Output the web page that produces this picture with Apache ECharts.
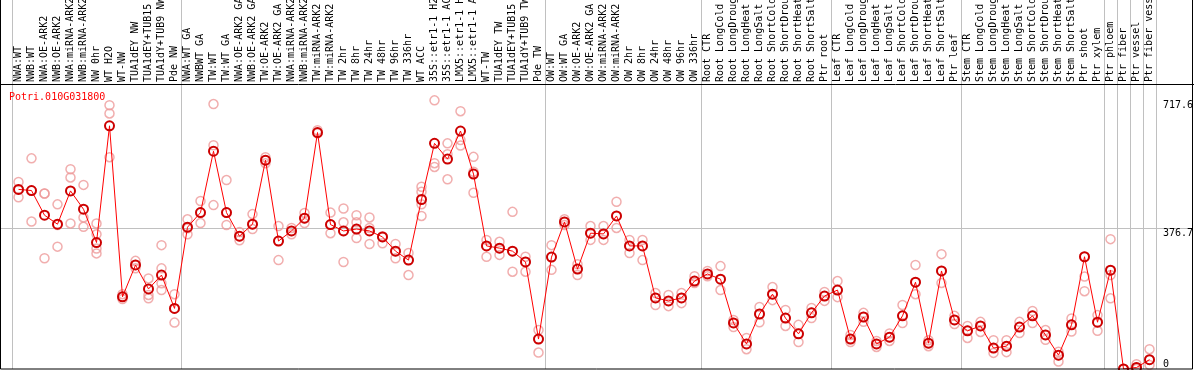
<!DOCTYPE html>
<html><head><meta charset="utf-8">
<script src="https://cdn.jsdelivr.net/npm/echarts@6/dist/echarts.min.js"></script>
<style>html,body{margin:0;padding:0;background:#fff}#c{width:1194px;height:370px}</style>
</head><body><div id="c"></div>
<script>
const title = "Potri.010G031800";
const categories = [
"NWA:WT","NWB:WT","NWA:OE-ARK2","NWB:OE-ARK2","NWA:miRNA-ARK2","NWB:miRNA-ARK2","NW 0hr","WT H2O","WT-NW","TUA1dEY NW","TUA1dEY+TUB15 NW","TUA1dY+TUB9 NW","Pde NW",
"NWA:WT GA","NWBWT GA","TW:WT","TW:WT GA","NWA:OE-ARK2 GA","NWB:OE-ARK2 GA","TW:OE-ARK2","TW:OE-ARK2 GA","NWA:miRNA-ARK2 GA","NWB:miRNA-ARK2 GA","TW:miRNA-ARK2","TW:miRNA-ARK2 GA","TW 2hr","TW 8hr","TW 24hr","TW 48hr","TW 96hr","TW 336hr","WT ACC","35S::etr1-1 H2O","35S::etr1-1 ACC","LMX5::etr1-1 H2O","LMX5::etr1-1 ACC","WT-TW","TUA1dEY TW","TUA1dEY+TUB15 TW","TUA1dY+TUB9 TW","Pde TW",
"OW:WT","OW:WT GA","OW:OE-ARK2","OW:OE-ARK2 GA","OW:miRNA-ARK2","OW:miRNA-ARK2 GA","OW 2hr","OW 8hr","OW 24hr","OW 48hr","OW 96hr","OW 336hr",
"Root CTR","Root LongCold","Root LongDrought","Root LongHeat","Root LongSalt","Root ShortCold","Root ShortDrought","Root ShortHeat","Root ShortSalt","Ptr root",
"Leaf CTR","Leaf LongCold","Leaf LongDrought","Leaf LongHeat","Leaf LongSalt","Leaf ShortCold","Leaf ShortDrought","Leaf ShortHeat","Leaf ShortSalt","Ptr leaf",
"Stem CTR","Stem LongCold","Stem LongDrought","Stem LongHeat","Stem LongSalt","Stem ShortCold","Stem ShortDrought","Stem ShortHeat","Stem ShortSalt","Ptr shoot","Ptr xylem","Ptr phloem","Ptr fiber","Ptr vessel","Ptr fiber vessel"
];
// indices of categories that have a separator line on their left
const separatorsBefore = [0,13,41,53,63,73,84,85,86,87];
const meanValues = [
480,477,411,387,476,427,338,650,193,278,214,251,162,
379,418,582,418,355,387,558,342,369,403,632,386,369,374,369,353,315,291,453,603,561,636,521,329,323,315,286,80,
299,393,267,363,361,409,329,329,190,182,190,235,
254,240,123,67,147,200,136,94,150,195,
211,80,139,67,85,142,232,69,262,131,
102,115,56,61,112,142,91,37,118,300,125,264,0,4,25
];
const replicateValues = [
[500,480,459],[563,477,394],[469,469,296],[440,385,327],[534,512,389],[492,405,380],[389,360,322,309],[705,683,566],[200,193,187],[289,278,269],[242,198,189],[331,269,229,211],[200,162,124],
[400,376,360],[449,418,390],[708,598,438],[505,418,385],[366,355,344],[414,387,374],[566,558,550],[382,342,291],[377,369,360],[417,403,390],[638,630],[418,386,363],[429,392,369,286],[411,392,374,350],[405,377,334],[355,353,336],[334,315,296],[310,291,251],[487,474,409,440],[718,550,540],[603,574,507],[689,612,597],[567,527,471],[345,329,300],[340,323,305],[420,315,260],[300,286,260],[104,80,44],
[331,299,265],[400,393,385],[280,267,251],[382,363,345],[382,361,345],[447,409,377],[345,329,310],[345,329,291],[203,190,171],[198,182,168],[203,190,176],[248,235,230],
[262,254,248],[275,240,211],[131,123,112],[83,67,53],[166,147,125],[219,200,184],[158,136,115],[118,94,72],[163,150,136],[206,195,182],
[235,211,192],[91,80,72],[150,139,126],[75,67,59],[95,85,75],[171,142,123],[278,232,200],[77,69,61],[307,262,230],[142,131,120],
[115,102,83],[126,115,99],[77,56,43],[77,61,45],[126,112,96],[155,142,123],[104,91,78],[46,37,20],[135,118,100],[247,300,208],[144,125,102],[347,264,251,189],[0,0,0],[13,4,0],[53,25,11]
];
const yTickValues = [0, 376.7, 717.6];
const gridLineValues = [376.7];
const yMax = 759;

const scatterData = [];
replicateValues.forEach((arr, i) => arr.forEach(v => scatterData.push([i, v])));

const FONT = "'DejaVu Sans Mono', 'Liberation Mono', monospace";
const sepFn = (idx) => separatorsBefore.indexOf(idx) >= 0;

const chart = echarts.init(document.getElementById('c'), null, {renderer: 'canvas'});
chart.setOption({
  animation: false,
  backgroundColor: '#fff',
  title: {
    text: title, left: 9, top: 92, padding: 0,
    textStyle: {color: '#ff0000', fontFamily: FONT, fontSize: 10, fontWeight: 'normal'}
  },
  graphic: [
    {type: 'rect', shape: {x: 0.5, y: -5, width: 1192, height: 374}, style: {fill: 'none', stroke: '#000', lineWidth: 1}, z: 100, silent: true},
    {type: 'line', shape: {x1: 0, y1: 84.5, x2: 1194, y2: 84.5}, style: {stroke: '#000', lineWidth: 1}, z: 100, silent: true}
  ],
  grid: [
    {left: 12, width: 1144, top: 0, height: 85, outerBoundsMode: 'none', containLabel: false},
    {left: 12, width: 1144, top: 85, height: 284, outerBoundsMode: 'none', containLabel: false},
    {left: 1, width: 1192, top: 85, height: 284, outerBoundsMode: 'none', containLabel: false}
  ],
  xAxis: [
    {type: 'category', gridIndex: 0, data: categories, position: 'bottom', boundaryGap: true,
     axisLine: {show: false}, axisTick: {show: false},
     axisLabel: {show: true, inside: true, rotate: 90, interval: 0, margin: 3, color: '#000', fontFamily: FONT, fontSize: 10, hideOverlap: false},
     splitLine: {show: true, interval: sepFn, lineStyle: {color: '#c0c0c0', width: 1}}},
    {type: 'category', gridIndex: 1, data: categories, boundaryGap: true,
     axisLine: {show: false}, axisTick: {show: false}, axisLabel: {show: false},
     splitLine: {show: true, interval: sepFn, lineStyle: {color: '#c0c0c0', width: 1}}},
    {type: 'value', gridIndex: 2, show: false, min: 0, max: 1}
  ],
  yAxis: [
    {type: 'value', gridIndex: 0, show: false},
    {type: 'value', gridIndex: 1, min: 0, max: yMax, position: 'right',
     axisLine: {show: false}, axisTick: {show: false}, splitLine: {show: false},
     axisLabel: {show: true, customValues: yTickValues, margin: 7, color: '#000', fontFamily: FONT, fontSize: 10,
       verticalAlign: 'top', verticalAlignMinLabel: 'bottom', align: 'left',
       formatter: (v) => String(v)}},
    {type: 'value', gridIndex: 2, min: 0, max: yMax,
     axisLine: {show: false}, axisLabel: {show: false},
     axisTick: {show: false, customValues: gridLineValues},
     splitLine: {show: true, lineStyle: {color: '#c0c0c0', width: 1}}}
  ],
  series: [
    {type: 'scatter', xAxisIndex: 1, yAxisIndex: 1, data: scatterData, symbol: 'circle', symbolSize: 9, z: 2,
     itemStyle: {color: 'rgba(0,0,0,0)', borderColor: '#ee9a9a', borderWidth: 1.5}, silent: true},
    {type: 'line', xAxisIndex: 1, yAxisIndex: 1, data: meanValues, symbol: 'circle', symbolSize: 9, showAllSymbol: true, z: 3,
     lineStyle: {color: '#ff0000', width: 1},
     itemStyle: {color: 'rgba(0,0,0,0)', borderColor: '#cc0000', borderWidth: 2}, silent: true}
  ]
});
</script></body></html>
